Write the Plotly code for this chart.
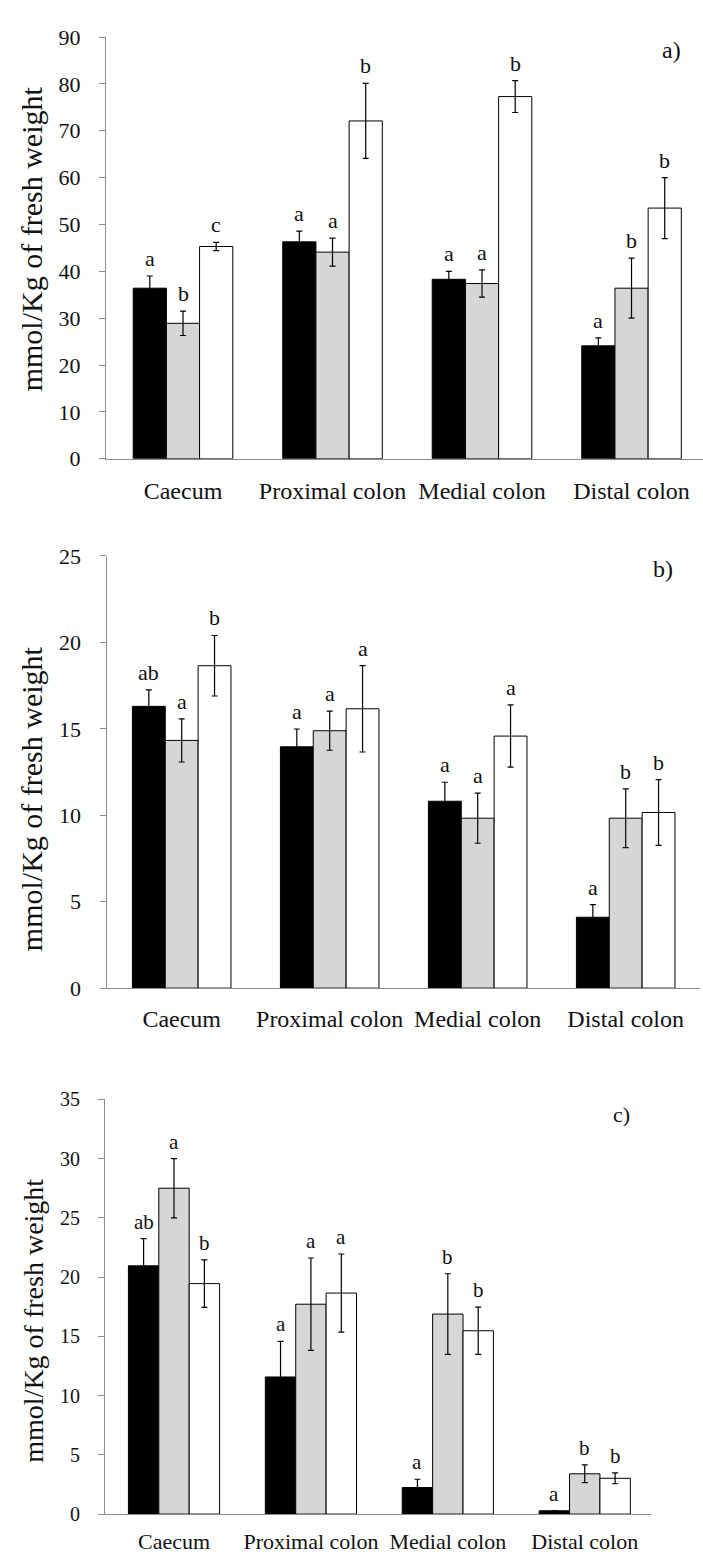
import plotly.graph_objects as go

categories = ["Caecum", "Proximal colon", "Medial colon", "Distal colon"]

# Panel a)
a_black = [36.4, 46.3, 38.3, 24.1]
a_black_err = [2.6, 2.3, 1.7, 1.7]
a_gray = [28.9, 44.1, 37.4, 36.4]
a_gray_err = [2.6, 3.0, 2.9, 6.4]
a_white = [45.3, 72.1, 77.3, 53.5]
a_white_err = [0.9, 8.0, 3.4, 6.5]
a_letters = [["a", "a", "a", "a"], ["b", "a", "a", "b"], ["c", "b", "b", "b"]]

# Panel b)
b_black = [16.3, 13.96, 10.81, 4.10]
b_black_err = [0.95, 1.03, 1.1, 0.73]
b_gray = [14.33, 14.89, 9.83, 9.83]
b_gray_err = [1.25, 1.13, 1.45, 1.7]
b_white = [18.65, 16.16, 14.58, 10.16]
b_white_err = [1.75, 2.5, 1.8, 1.9]
b_letters = [["ab", "a", "a", "a"], ["a", "a", "a", "b"], ["b", "a", "a", "b"]]

# Panel c)
c_black = [20.95, 11.57, 2.24, 0.28]
c_black_err = [2.3, 3.0, 0.7, 0.0]
c_gray = [27.5, 17.71, 16.88, 3.40]
c_gray_err = [2.5, 3.9, 3.4, 0.75]
c_white = [19.45, 18.65, 15.47, 3.02]
c_white_err = [2.0, 3.3, 2.0, 0.46]
c_letters = [["ab", "a", "a", "a"], ["a", "a", "b", "b"], ["b", "a", "b", "b"]]

W, H = 703, 1563
FONT = "Liberation Serif"
AXIS_GRAY = "#8c8c8c"
fills = ["#000000", "#d6d6d6", "#ffffff"]
BARGAP = 0.334
bw = (1 - BARGAP) / 3

panels = [
    dict(series=[(a_black, a_black_err), (a_gray, a_gray_err), (a_white, a_white_err)],
         letters=a_letters, xdom=(106, 703), ydom=(454, 25.5), yr=(0, 90), dt=10,
         xr=(-0.515, 3.478), tick=22, cat=24, let=22, title=30, title_pos=(31, 231),
         lab="a)", lab_pos=(671, 39), lab_size=24, stand=10),
    dict(series=[(b_black, b_black_err), (b_gray, b_gray_err), (b_white, b_white_err)],
         letters=b_letters, xdom=(106.5, 700), ydom=(992, 552.8), yr=(0, 25), dt=5,
         xr=(-0.508, 3.502), tick=22, cat=24, let=22, title=30, title_pos=(31, 800),
         lab="b)", lab_pos=(663, 566), lab_size=24, stand=9),
    dict(series=[(c_black, c_black_err), (c_gray, c_gray_err), (c_white, c_white_err)],
         letters=c_letters, xdom=(105, 651), ydom=(1526.5, 1105), yr=(0, 35), dt=5,
         xr=(-0.504, 3.484), tick=20, cat=22, let=21, title=28, title_pos=(34, 1330),
         lab="c)", lab_pos=(621, 1120), lab_size=22, stand=8),
]

fig = go.Figure()
annotations = []
xs = list(range(len(categories)))

for p_i, p in enumerate(panels):
    sfx = "" if p_i == 0 else str(p_i + 1)
    xa, ya = "x" + sfx, "y" + sfx
    for s_i, (vals, errs) in enumerate(p["series"]):
        fig.add_trace(go.Bar(
            x=xs, y=vals, xaxis=xa, yaxis=ya,
            marker=dict(color=fills[s_i], line=dict(color="black", width=1)),
            error_y=dict(type="data", array=errs, visible=True, color="black",
                         thickness=1.2, width=3),
            showlegend=False, offsetgroup=str(s_i), hoverinfo="skip",
        ))
        for j in xs:
            annotations.append(dict(
                x=j + (s_i - 1) * bw, y=vals[j] + errs[j], xref=xa, yref=ya,
                text=p["letters"][s_i][j], showarrow=False, yanchor="bottom",
                xanchor="center", yshift=3,
                font=dict(family=FONT, size=p["let"], color="#111111"),
            ))
    x0, x1 = p["xdom"]
    yb, yt = p["ydom"]
    fig.layout["xaxis" + sfx] = dict(
        domain=[x0 / W, x1 / W], range=list(p["xr"]), anchor=ya,
        tickvals=xs, ticktext=categories, ticks="", showgrid=False, zeroline=False,
        showline=True, linecolor=AXIS_GRAY, linewidth=1,
        tickfont=dict(family=FONT, size=p["cat"], color="#111111"),
        ticklabelstandoff=p["stand"], fixedrange=True,
    )
    fig.layout["yaxis" + sfx] = dict(
        domain=[1 - yb / H, 1 - yt / H], range=list(p["yr"]), anchor=xa,
        dtick=p["dt"], tick0=0, ticks="outside", ticklen=6, tickcolor=AXIS_GRAY,
        showgrid=False, zeroline=False, showline=True, linecolor=AXIS_GRAY,
        linewidth=1, tickfont=dict(family=FONT, size=p["tick"], color="#111111"),
        ticklabelstandoff=14, fixedrange=True,
    )
    tx, ty = p["title_pos"]
    annotations.append(dict(
        x=tx / W, y=1 - ty / H, xref="paper", yref="paper", text="mmol/Kg of fresh weight",
        textangle=-90, showarrow=False, xanchor="center", yanchor="middle",
        font=dict(family=FONT, size=p["title"], color="#111111"),
    ))
    lx, ly = p["lab_pos"]
    annotations.append(dict(
        x=lx / W, y=1 - ly / H, xref="paper", yref="paper", text=p["lab"],
        showarrow=False, xanchor="center", yanchor="middle",
        font=dict(family=FONT, size=p["lab_size"], color="#111111"),
    ))

fig.update_layout(
    width=W, height=H, margin=dict(l=0, r=0, t=0, b=0),
    paper_bgcolor="white", plot_bgcolor="white",
    barmode="group", bargap=BARGAP, bargroupgap=0,
    annotations=annotations, showlegend=False, hovermode=False,
)

fig.write_html(
    "out.html",
    config={"displayModeBar": False, "staticPlot": True},
    post_script="document.body.style.margin='0';document.body.style.overflow='hidden';",
)
